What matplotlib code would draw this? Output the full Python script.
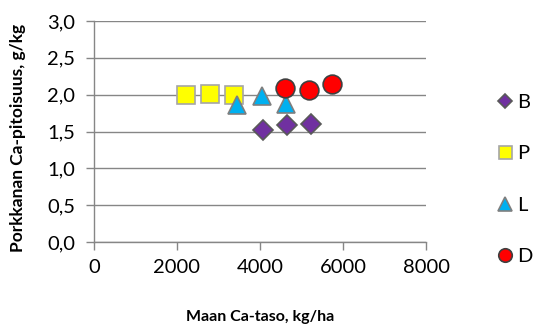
import matplotlib
matplotlib.use("Agg")
import matplotlib.pyplot as plt

# Soil Ca level (kg/ha) and carrot Ca content (g/kg) per treatment group
b_x = [4065, 4643, 5221]
b_y = [1.52, 1.59, 1.60]
p_x = [2217, 2802, 3366]
p_y = [2.00, 2.01, 2.00]
l_x = [3453, 4040, 4619]
l_y = [1.86, 1.98, 1.88]
d_x = [4602, 5173, 5742]
d_y = [2.09, 2.07, 2.14]

x_ticks = [0, 2000, 4000, 6000, 8000]
y_ticks = [0.0, 0.5, 1.0, 1.5, 2.0, 2.5, 3.0]
y_tick_labels = ["0,0", "0,5", "1,0", "1,5", "2,0", "2,5", "3,0"]

plt.rcParams["font.family"] = ["Lato", "DejaVu Sans"]

fig = plt.figure(figsize=(5.34, 3.24), dpi=100)
ax = fig.add_axes([94 / 534, 1 - 242 / 324, 332 / 534, 221 / 324])

grid_c = "#868686"
series = [
    (b_x, b_y, "D", 9.8, "#7030A0", "#595959", "B"),
    (p_x, p_y, "s", 13, "#FFFF00", "#A6A6A6", "P"),
    (l_x, l_y, "^", 13.5, "#00B0F0", "#7F7F7F", "L"),
    (d_x, d_y, "o", 13.5, "#FF0000", "#404040", "D"),
]
for xs, ys, m, ms, fc, ec, lab in series:
    ax.plot(xs, ys, linestyle="none", marker=m, markersize=ms,
            markerfacecolor=fc, markeredgecolor=ec, markeredgewidth=1.2,
            label=lab, zorder=3)

ax.set_xlim(0, 8000)
ax.set_ylim(0, 3.0)
ax.set_xticks(x_ticks)
ax.set_yticks(y_ticks)
ax.set_yticklabels(y_tick_labels)
ax.yaxis.grid(True, color=grid_c, linewidth=1.0)
ax.set_axisbelow(True)
for s in ["top", "right"]:
    ax.spines[s].set_visible(False)
for s in ["left", "bottom"]:
    ax.spines[s].set_color(grid_c)
    ax.spines[s].set_linewidth(1.0)
ax.tick_params(axis="both", direction="out", length=5.5, width=1.0,
               color=grid_c, labelsize=14.5, labelcolor="black")
ax.tick_params(axis="x", pad=7)
ax.tick_params(axis="y", pad=8)

ax.set_xlabel("Maan Ca-taso, kg/ha", fontsize=11.5, fontweight="bold")
ax.xaxis.label.set_va("center")
ax.xaxis.set_label_coords(0.5, (242 - 317) / 221)
ax.set_ylabel("Porkkanan Ca-pitoisuus, g/kg", fontsize=12.5, fontweight="bold")
ax.yaxis.label.set_va("center")
ax.yaxis.set_label_coords((18 - 94) / 332, 0.47)

fig.legend(loc="upper left", bbox_to_anchor=(495 / 534, 1 - 94 / 324),
           frameon=False, fontsize=14.5, markerscale=0.72, labelspacing=1.7,
           handletextpad=0.1, handlelength=1.0, borderaxespad=0, borderpad=0)

fig.savefig("out.png", dpi=100)
